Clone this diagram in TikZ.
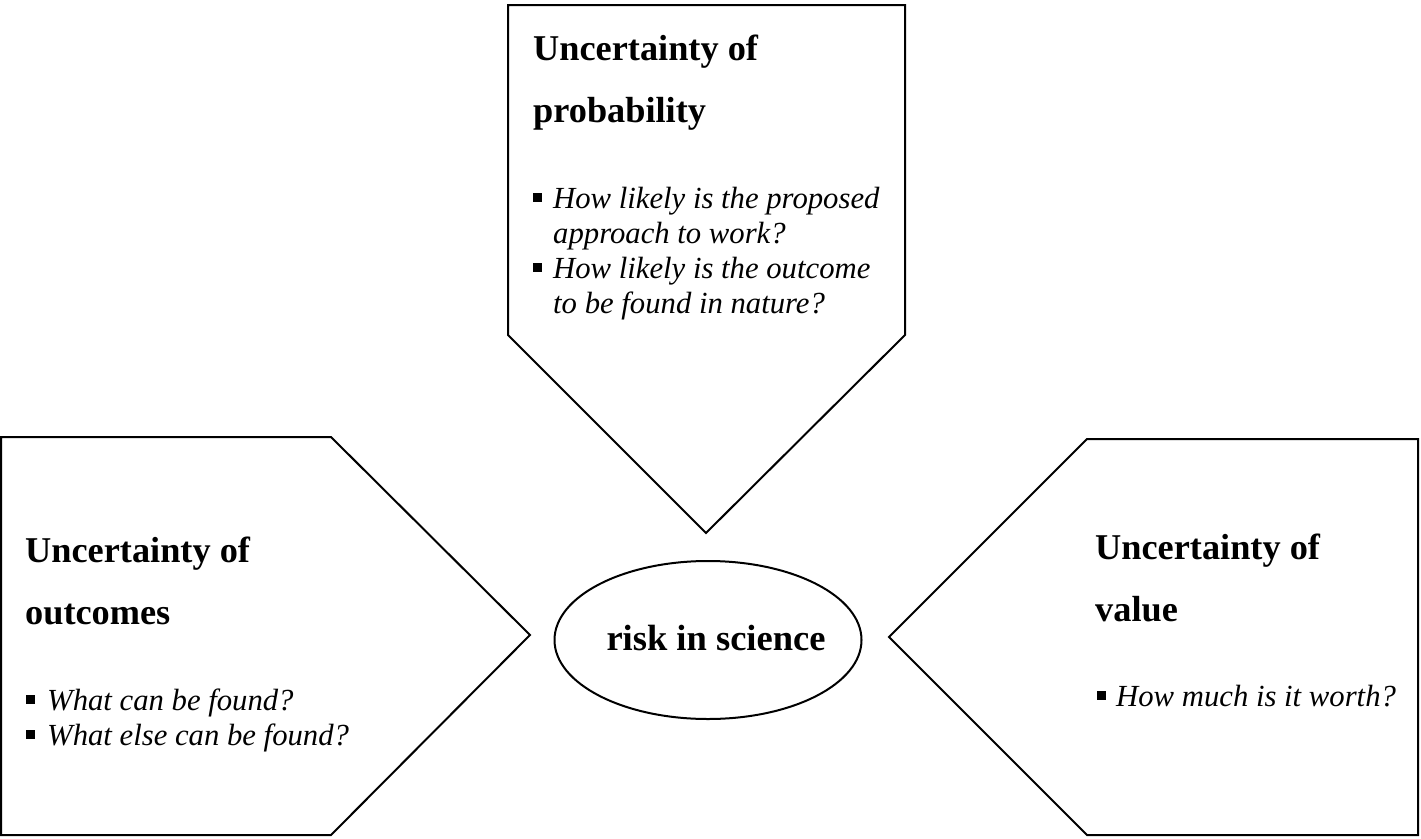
\documentclass[tikz,border=0pt]{standalone}
\usepackage{fontspec}
\setmainfont{Liberation Serif}
\usetikzlibrary{shapes.geometric, positioning}

\newcommand{\qmark}{\rule[0.2em]{8.5pt}{8.5pt}}

\begin{document}
\begin{tikzpicture}[x=1pt, y=-1pt,
    arrowbox/.style={draw, line width=2pt, line join=miter},
    headline/.style={inner sep=0pt, anchor=base west,
      font=\fontsize{36.3}{62}\selectfont\bfseries},
    qlist/.style={inner sep=0pt, anchor=base west,
      font=\fontsize{30.7}{35}\selectfont\itshape}]
  \useasboundingbox (0,0) rectangle (1421,838);
  \fill[white] (0,0) rectangle (1421,838);

  % the three pointing boxes
  \draw[arrowbox] (508,5) -- (905,5) -- (905,335) -- (706,533) -- (508,335) -- cycle;
  \draw[arrowbox] (1,437) -- (331,437) -- (530,635) -- (331,835) -- (1,835) -- cycle;
  \draw[arrowbox] (1418,439) -- (1418,835) -- (1087,835) -- (889,637) -- (1087,439) -- cycle;

  % centre
  \node[ellipse, draw, line width=2pt, minimum width=307pt, minimum height=158pt] (risk) at (708,640) {};
  \node[inner sep=0pt, font=\fontsize{36.5}{40}\selectfont\bfseries] (risklabel)
    at ([xshift=8pt, yshift=2pt]risk.center) {risk in science};

  % top: probability
  \node[headline] (probtitle) at (533,60)
    {\begin{tabular}[t]{@{}l@{}}Uncertainty of\\probability\end{tabular}};
  \node[qlist] (problist) at (533,208)
    {\begin{tabular}[t]{@{}l@{\hspace{11.5pt}}l@{}}
      \qmark & How likely is the proposed\\
             & approach to work?\\
      \qmark & How likely is the outcome\\
             & to be found in nature?
    \end{tabular}};

  % left: outcomes
  \node[headline] (outtitle) at (25,562)
    {\begin{tabular}[t]{@{}l@{}}Uncertainty of\\outcomes\end{tabular}};
  \node[qlist] (outlist) at (26,710)
    {\begin{tabular}[t]{@{}l@{\hspace{12.5pt}}l@{}}
      \qmark & What can be found?\\
      \qmark & What else can be found?
    \end{tabular}};

  % right: value
  \node[headline] (valtitle) at (1095,559)
    {\begin{tabular}[t]{@{}l@{}}Uncertainty of\\value\end{tabular}};
  \node[qlist] (vallist) at (1097,706)
    {\begin{tabular}[t]{@{}l@{\hspace{10.5pt}}l@{}}
      \qmark & How much is it worth?
    \end{tabular}};
\end{tikzpicture}
\end{document}
